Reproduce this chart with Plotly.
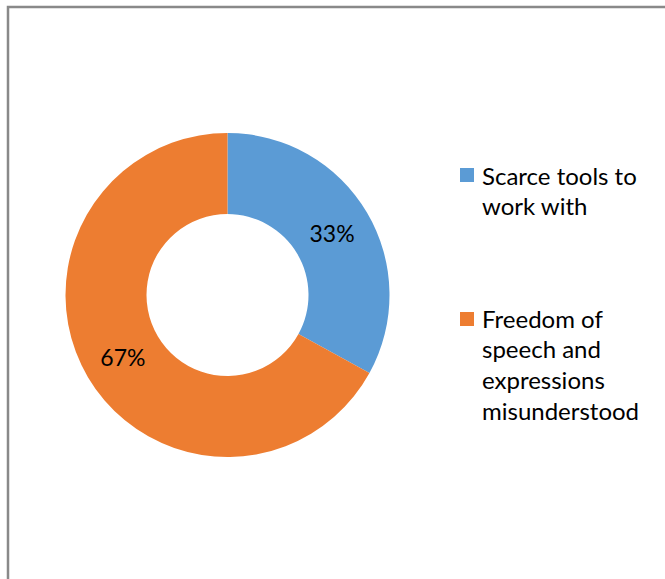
import plotly.graph_objects as go

categories = ["Scarce tools to work with", "Freedom of speech and expressions misunderstood"]
values = [33, 67]
colors = ["#5B9BD5", "#ED7D31"]
legend_lines = [["Scarce tools to", "work with"],
                ["Freedom of", "speech and", "expressions", "misunderstood"]]

W, H = 665, 579
FONT = "Lato"

fig = go.Figure()
fig.add_trace(go.Pie(
    labels=categories,
    values=values,
    hole=0.5,
    sort=False,
    direction="clockwise",
    rotation=0,
    marker=dict(colors=colors, line=dict(width=0)),
    textinfo="percent",
    texttemplate="%{percent:.0%}",
    textposition="inside",
    insidetextorientation="horizontal",
    textfont=dict(family=FONT, size=23, color="#000000"),
    showlegend=False,
    domain=dict(x=[65.5 / W, 389.5 / W], y=[122 / H, 446 / H]),
))

shapes = []
annotations = []
# legend blocks
sq_tops = [168, 312]
line_centers = [[175, 205], [318, 348, 379, 410]]
for i, lines in enumerate(legend_lines):
    t = sq_tops[i]
    shapes.append(dict(type="rect", xref="paper", yref="paper",
                       x0=460 / W, x1=474 / W, y0=1 - (t + 14) / H, y1=1 - t / H,
                       fillcolor=colors[i], line=dict(width=0)))
    for j, ln in enumerate(lines):
        annotations.append(dict(text=ln, xref="paper", yref="paper",
                                x=480 / W, y=1 - line_centers[i][j] / H,
                                xanchor="left", yanchor="middle", showarrow=False,
                                font=dict(family=FONT, size=24, color="#000000")))

# chart frame (left and top edges visible)
shapes.append(dict(type="rect", xref="paper", yref="paper",
                   x0=8 / W, x1=1.05, y0=-0.05, y1=1 - 7 / H,
                   line=dict(color="#898989", width=2.5), fillcolor="rgba(0,0,0,0)"))

fig.update_layout(
    width=W, height=H,
    margin=dict(l=0, r=0, t=0, b=0),
    paper_bgcolor="white",
    plot_bgcolor="white",
    shapes=shapes,
    annotations=annotations,
)

fig.write_html("out.html")
